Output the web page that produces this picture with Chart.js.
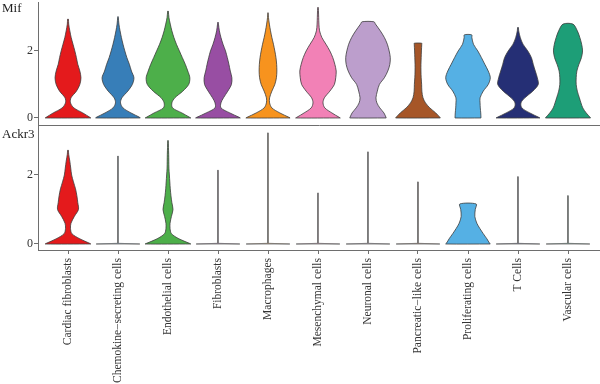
<!DOCTYPE html>
<html>
<head>
<meta charset="utf-8">
<script src="https://cdn.jsdelivr.net/npm/chart.js@4/dist/chart.umd.min.js"></script>
<style>
body { margin: 0; background: #fff; }
#wrap { position: relative; width: 600px; height: 384px; overflow: hidden; font-family: "Liberation Serif", serif; }
canvas { position: absolute; left: 0; }
.gene { position: absolute; left: 2px; font-size: 13px; color: #222; }
</style>
</head>
<body>
<div id="wrap">
  <canvas id="mifChart" width="600" height="126" style="top:0"></canvas>
  <canvas id="ackr3Chart" width="600" height="258" style="top:126px"></canvas>
  <div class="gene" style="top:0px">Mif</div>
  <div class="gene" style="top:126px">Ackr3</div>
</div>
<script>

const cellTypes = [
    "Cardiac fibroblasts", "Chemokine\u2212secreting cells", "Endothelial cells",
    "Fibroblasts", "Macrophages", "Mesenchymal cells", "Neuronal cells",
    "Pancreatic\u2212like cells", "Proliferating cells", "T Cells", "Vascular cells"
];

const cellColors = [
    "#E41A1C", "#377EB8", "#4DAF4A", "#984EA3", "#F7931E", "#F281B6",
    "#BC9ECC", "#A65628", "#55B0E4", "#252F75", "#1D9E77"
];

const yTicks = [0, 2];

// expression levels where the density (relative violin width) is read
const levels = [0, 0.02, 0.15, 0.3, 0.45, 0.6, 0.8, 1.0, 1.2, 1.4, 1.6, 1.8, 2.0, 2.2, 2.4, 2.6, 2.8, 3.0, 3.2, 3.4];

// Mif: highest value per cell type, then densities per cell type
const mifMax = [2.95, 3.02, 3.19, 2.85, 3.14, 3.3, 2.87, 2.23, 2.48, 2.7, 2.8];
const mifDensity = [
    [1.00, 0.96, 0.65, 0.26, 0.11, 0.13, 0.37, 0.52, 0.57, 0.52, 0.43, 0.37, 0.30, 0.22, 0.14, 0.08, 0.03, 0.01, 0, 0],
    [0.98, 0.95, 0.57, 0.22, 0.11, 0.17, 0.43, 0.63, 0.70, 0.59, 0.50, 0.39, 0.30, 0.22, 0.15, 0.09, 0.04, 0.015, 0, 0],
    [1.00, 0.95, 0.61, 0.20, 0.17, 0.30, 0.65, 0.91, 0.96, 0.87, 0.76, 0.63, 0.50, 0.37, 0.26, 0.17, 0.10, 0.04, 0.01, 0],
    [0.98, 0.93, 0.52, 0.13, 0.13, 0.24, 0.43, 0.59, 0.61, 0.54, 0.48, 0.41, 0.33, 0.22, 0.13, 0.06, 0.02, 0, 0, 0],
    [0.97, 0.92, 0.52, 0.17, 0.07, 0.07, 0.17, 0.30, 0.37, 0.39, 0.38, 0.35, 0.30, 0.24, 0.17, 0.11, 0.06, 0.02, 0, 0],
    [0.98, 0.93, 0.61, 0.30, 0.22, 0.28, 0.52, 0.72, 0.78, 0.80, 0.74, 0.65, 0.52, 0.35, 0.17, 0.07, 0.04, 0.03, 0.02, 0],
    [0.80, 0.79, 0.70, 0.52, 0.39, 0.35, 0.41, 0.50, 0.72, 0.87, 0.96, 0.98, 0.93, 0.85, 0.72, 0.54, 0.33, 0.13, 0, 0],
    [0.98, 0.96, 0.78, 0.52, 0.33, 0.22, 0.17, 0.16, 0.14, 0.13, 0.13, 0.14, 0.15, 0.165, 0.17, 0, 0, 0, 0, 0],
    [0.57, 0.57, 0.56, 0.54, 0.53, 0.53, 0.67, 0.89, 0.98, 0.89, 0.74, 0.59, 0.43, 0.24, 0.17, 0.15, 0, 0, 0, 0],
    [0.96, 0.91, 0.52, 0.17, 0.13, 0.30, 0.65, 0.89, 0.85, 0.76, 0.67, 0.59, 0.43, 0.22, 0.10, 0.03, 0, 0, 0, 0],
    [0.99, 0.97, 0.80, 0.65, 0.57, 0.50, 0.41, 0.36, 0.36, 0.39, 0.48, 0.59, 0.64, 0.60, 0.52, 0.41, 0.22, 0, 0, 0]
];

// Ackr3
const ackr3Max = [2.72, 2.55, 3.0, 2.14, 3.22, 1.48, 2.67, 1.8, 1.16, 1.95, 1.4];
const ackr3Density = [
    [1.00, 0.95, 0.52, 0.17, 0.11, 0.13, 0.28, 0.46, 0.43, 0.39, 0.33, 0.24, 0.16, 0.12, 0.08, 0.03, 0, 0, 0, 0],
    [0.96, 0.01, 0.01, 0.01, 0.01, 0.01, 0.01, 0.01, 0.01, 0.01, 0.01, 0.01, 0.01, 0.01, 0.01, 0.01, 0.01, 0, 0, 0],
    [1.00, 0.94, 0.48, 0.15, 0.09, 0.09, 0.15, 0.22, 0.17, 0.13, 0.10, 0.08, 0.06, 0.04, 0.035, 0.03, 0.02, 0.01, 0, 0],
    [0.96, 0.01, 0.01, 0.01, 0.01, 0.01, 0.01, 0.01, 0.01, 0.01, 0.01, 0.01, 0.01, 0.01, 0, 0, 0, 0, 0, 0],
    [0.96, 0.01, 0.01, 0.01, 0.01, 0.01, 0.01, 0.01, 0.01, 0.01, 0.01, 0.01, 0.01, 0.01, 0.01, 0.01, 0.01, 0.01, 0.01, 0.01],
    [0.96, 0.01, 0.01, 0.01, 0.01, 0.01, 0.01, 0.01, 0.01, 0.01, 0, 0, 0, 0, 0, 0, 0, 0, 0, 0],
    [0.96, 0.01, 0.01, 0.01, 0.01, 0.01, 0.01, 0.01, 0.01, 0.01, 0.01, 0.01, 0.01, 0.01, 0.01, 0.01, 0.01, 0, 0, 0],
    [0.96, 0.01, 0.01, 0.01, 0.01, 0.01, 0.01, 0.01, 0.01, 0.01, 0.01, 0.01, 0.01, 0, 0, 0, 0, 0, 0, 0],
    [0.98, 0.95, 0.83, 0.67, 0.52, 0.39, 0.30, 0.32, 0.37, 0, 0, 0, 0, 0, 0, 0, 0, 0, 0, 0],
    [0.96, 0.01, 0.01, 0.01, 0.01, 0.01, 0.01, 0.01, 0.01, 0.01, 0.01, 0.01, 0.01, 0.01, 0, 0, 0, 0, 0, 0],
    [0.96, 0.01, 0.01, 0.01, 0.01, 0.01, 0.01, 0.01, 0.01, 0.01, 0.01, 0, 0, 0, 0, 0, 0, 0, 0, 0]
];

const HALF_WIDTH = 0.455;
const AXIS_GREY = "#6e6e6e";

Chart.defaults.font.family = '"Liberation Serif", serif';
Chart.defaults.font.size = 11;
Chart.defaults.color = "#333";

renderPanel("mifChart", mifDensity, mifMax, -0.21, 3.46, false);

renderPanel("ackr3Chart", ackr3Density, ackr3Max, -0.174, 3.42, true);

function violinOutline(center, dens, top) {

    const right = [];

    for (let j = 0; j < levels.length; j++) {

        if (levels[j] >= top) {
            const t = (top - levels[j - 1]) / (levels[j] - levels[j - 1]);
            const d = dens[j - 1] + t * (dens[j] - dens[j - 1]);
            right.push({ x: center + d * HALF_WIDTH, y: top });
            break;
        }

        right.push({ x: center + dens[j] * HALF_WIDTH, y: levels[j] });

    }

    const left = right.slice().reverse()
        .map(p => ({ x: 2 * center - p.x, y: p.y }));

    return right.concat(left, [right[0]]);

}

function noPadding(s) {
    s.paddingTop = 0;
    s.paddingBottom = 0;
    s.paddingLeft = 0;
    s.paddingRight = 0;
}

function renderPanel(id, density, maxima, yMin, yMax, showLabels) {

    const datasets = cellTypes.map((name, i) => {

        const thin = Math.max(...density[i].slice(1)) < 0.05;

        return {
            label: name,
            data: violinOutline(i, density[i], maxima[i]),
            showLine: true,
            fill: "shape",
            backgroundColor: cellColors[i],
            borderColor: thin ? "#777" : "#3c3c3c",
            borderWidth: thin ? 0.9 : 0.8,
            pointRadius: 0,
            tension: thin ? 0 : 0.3
        };

    });

    new Chart(

        document.getElementById(id),

        {

            type: "scatter",

            data: { datasets: datasets },

            options: {

                responsive: false,
                animation: false,
                devicePixelRatio: 1,
                events: [],

                layout: {
                    padding: { top: showLabels ? 0 : 2, left: 0, right: 0, bottom: 0 }
                },

                plugins: {
                    legend: { display: false },
                    tooltip: { enabled: false }
                },

                scales: {

                    x: {
                        type: "linear",
                        min: -0.6,
                        max: 10.64,
                        afterBuildTicks: s => {
                            s.ticks = cellTypes.map((c, i) => ({ value: i }));
                        },
                        afterFit: s => {
                            s.height = showLabels ? 134 : 1;
                            noPadding(s);
                        },
                        border: { display: true, color: AXIS_GREY, width: 1 },
                        grid: {
                            display: showLabels,
                            drawOnChartArea: false,
                            tickLength: 4,
                            color: AXIS_GREY
                        },
                        ticks: {
                            display: showLabels,
                            autoSkip: false,
                            minRotation: 90,
                            maxRotation: 90,
                            padding: 4,
                            font: { size: 11.5 },
                            callback: v => cellTypes[v]
                        }
                    },

                    y: {
                        min: yMin,
                        max: yMax,
                        afterBuildTicks: s => {
                            s.ticks = yTicks.map(v => ({ value: v }));
                        },
                        afterFit: s => {
                            s.width = 38;
                            noPadding(s);
                        },
                        border: { display: true, color: AXIS_GREY, width: 1 },
                        grid: {
                            drawOnChartArea: false,
                            tickLength: 4,
                            color: AXIS_GREY
                        },
                        ticks: {
                            padding: 1,
                            font: { size: 12 }
                        }
                    }

                }

            }

        }

    );

}

</script>
</body>
</html>
